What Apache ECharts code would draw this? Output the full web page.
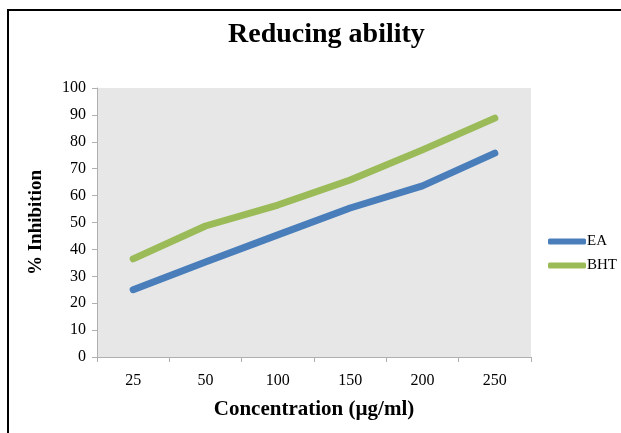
<!DOCTYPE html>
<html>
<head>
<meta charset="utf-8">
<script src="https://cdn.jsdelivr.net/npm/echarts@6/dist/echarts.min.js"></script>
<style>
  html, body { margin: 0; padding: 0; background: #fff; }
  #chart { width: 621px; height: 433px; }
</style>
</head>
<body>
<div id="chart"></div>
<script>
const categories = ['25', '50', '100', '150', '200', '250'];
const eaValues = [25, 35.3, 45.4, 55.4, 63.6, 75.8];
const bhtValues = [36.5, 48.7, 56.5, 65.8, 77, 88.8];

const serif = '"Liberation Serif", "DejaVu Serif", serif';

const chart = echarts.init(document.getElementById('chart'), null, { renderer: 'canvas' });

chart.setOption({
  animation: false,
  backgroundColor: '#fff',
  title: {
    text: 'Reducing ability',
    left: 223,
    top: 16,
    textStyle: { fontFamily: serif, fontWeight: 'bold', fontSize: 28, color: '#000' }
  },
  graphic: [
    {
      type: 'rect',
      shape: { x: 8, y: 10, width: 640, height: 460 },
      style: { fill: 'none', stroke: '#000', lineWidth: 2 },
      silent: true
    }
  ],
  legend: {
    orient: 'vertical',
    left: 543,
    top: 229,
    itemWidth: 38,
    itemHeight: 6,
    itemGap: 9,
    icon: 'roundRect',
    textStyle: { fontFamily: serif, fontSize: 15, color: '#000', padding: [0, 0, 0, -4] },
    data: ['EA', 'BHT']
  },
  grid: { left: 97, right: 90, top: 88, bottom: 76, backgroundColor: '#e7e7e7', show: true, borderWidth: 0 },
  xAxis: {
    type: 'category',
    data: categories,
    boundaryGap: true,
    name: 'Concentration (µg/ml)',
    nameLocation: 'middle',
    nameGap: 42,
    nameTextStyle: { fontFamily: serif, fontWeight: 'bold', fontSize: 21, color: '#000' },
    axisLine: { lineStyle: { color: '#b0b0b0', width: 1 } },
    axisTick: { show: true, length: 5, lineStyle: { color: '#b0b0b0' } },
    axisLabel: { fontFamily: serif, fontSize: 16, color: '#000', margin: 16 }
  },
  yAxis: {
    type: 'value',
    min: 0,
    max: 100,
    interval: 10,
    name: '% Inhibition',
    nameLocation: 'middle',
    nameGap: 51,
    nameTextStyle: { fontFamily: serif, fontWeight: 'bold', fontSize: 19, color: '#000' },
    axisLine: { show: true, lineStyle: { color: '#b0b0b0', width: 1 } },
    axisTick: { show: true, length: 5, lineStyle: { color: '#b0b0b0' } },
    splitLine: { show: false },
    axisLabel: { fontFamily: serif, fontSize: 16, color: '#000', margin: 11 }
  },
  series: [
    {
      name: 'EA',
      type: 'line',
      data: eaValues,
      symbol: 'none',
      color: '#4a7ebb',
      lineStyle: { width: 7, cap: 'round', join: 'round' }
    },
    {
      name: 'BHT',
      type: 'line',
      data: bhtValues,
      symbol: 'none',
      color: '#9bbb59',
      lineStyle: { width: 7, cap: 'round', join: 'round' }
    }
  ]
});
</script>
</body>
</html>
